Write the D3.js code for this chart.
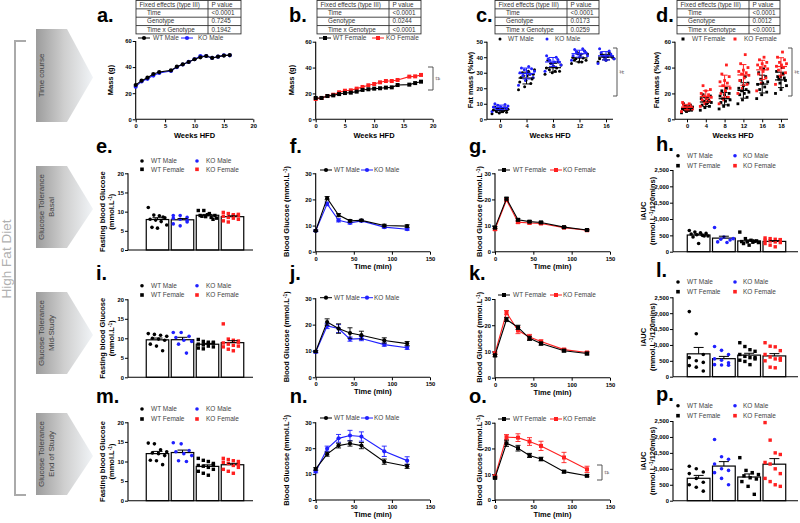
<!DOCTYPE html>
<html><head><meta charset="utf-8">
<script src="https://cdn.jsdelivr.net/npm/d3@7"></script>
<style>body{margin:0;background:#fff;} text{font-family:"Liberation Sans",Arial,sans-serif;}</style>
</head><body><svg id="c" width="800" height="523"></svg>
<script>
// ---------------- DATA ----------------
const weeksA = [0,1,2,3,4,6,7,8,9,10,11,12,13,14,15,16];
const massWTMale = [26.3,29.6,31.9,34.7,36.2,37.5,40.3,42.1,43.9,46,47.5,48.5,47,48,48.8,49.2];
const massKOMale = [25,29,31,33.5,35.5,37,40,42,44,46,48.5,48.5,47,48,49,49];
const weeksB = [0,1,2,3,4,5,6,7,8,9,10,11,12,13,14,16,17,18];
const massWTFemale = [16.5,16.5,18,18.5,19.5,20.3,20.6,21.4,22.7,23.2,23.7,24,24.5,24.7,26.5,26.8,28,29.1];
const massKOFemale = [15.7,16.5,18,19,20.9,22.1,22.4,23.7,25,26.3,27.3,28.6,29.6,29.6,30.4,33,33.2,34.3];

const fatWeeksC = ["0","4","8","12","16"];
const fatWTMale = [[3.5,4,4.5,5,5.5,6,6,6.5,7,7.5,8,5],[19,21,23,24,25,26,27,28,29,30,31,32,28,29],[29,30,31,32,33,33,34,35,36,37,38,31],[36,37,38,39,39.5,40,41,42,43,44,38,37],[37,38,39,40,40,41,41.5,42,43,39,40.5]];
const fatKOMale = [[5,6,6.5,7,7.5,8,8,8.5,9,9.5,10,7],[22,25,27,28,29,30,30.5,31,32,32.5,33,34],[31,34,35,36,37,38,38.5,39,40,41,37],[38,40,41,42,43,43.5,44,45,45.5,41,42],[36,38,39,40,40.5,41,42,43,44,45.5,41]];
const fatWeeksD = ["0","4","8","12","16","18"];
const fatWTFemale = [[5,6,7,7.5,8,8,9,9.5,10,11,12,7],[7,9,10,11,12,13,14,15,16,17,18,19,13],[8,10,11,13,14,15,16,17,18,19,20,22,24],[12,15,17,19,20,21,22,23,24,26,28,30,33],[16,19,21,23,25,27,28,29,31,33,36,39],[20,23,26,28,30,31,32,33,35,37,40]];
const fatKOFemale = [[6,7,8,8.5,9,10,10.5,11,12,13,9],[10,12,14,15,16,17,18,19,20,22,23,26,17],[12,15,17,20,22,24,26,28,29,30,33,35,42],[20,24,27,30,32,34,35,36,37,38,40,43,50],[22,28,32,35,37,39,40,41,42,43,44,46,48],[27,33,36,38,40,41,42,43,44,46,48,52]];

const tableRows = ["Time","Genotype","Time x Genotype"];
const pA = ["<0.0001","0.7245","0.1942"];
const pB = ["<0.0001","0.0244","<0.0001"];
const pC = ["<0.0001","0.0173","0.0259"];
const pD = ["<0.0001","0.0012","<0.0001"];

const groups = ["WT Male","KO Male","WT Female","KO Female"];
const fbgBasal = [[11.1,9.1,8.9,8.4,8.0,7.8,7.4,6.5,5.9,5.7,8.6],[8.3,8.0,8.5,9.0,9.0,7.3,6.8,6.3,7.7],[10.3,10.3,9.5,9.0,9.0,8.7,8.5,8.3,8.8,9.2,8.0],[9.8,9.5,9.2,9.0,8.8,8.5,8.3,8.0,7.6,7.3,9.0,9.3]];
const fbgMid = [[11.2,11.0,10.8,10.5,10.0,9.8,9.5,8.5,8.0,6.8],[11.5,11.5,10.5,10.2,9.5,9.2,8.5,6.2],[9.7,9.2,9.0,8.8,8.5,8.3,8.0,7.8,7.5,7.3,8.7,9.0],[13.7,9.8,9.5,9.0,8.8,8.5,8.2,8.0,7.8,7.2,6.8,9.3]];
const fbgEnd = [[14.7,14.5,13.0,12.5,12.2,12.0,11.5,10.3,10.2,9.2],[14.8,14.5,12.8,12.5,12.0,11.5,10.2,10.0],[10.8,10.3,10.0,9.5,9.0,8.8,8.5,8.0,7.5,7.0,6.5,9.2],[10.8,10.5,10.2,10.0,9.8,9.5,9.0,8.5,8.0,7.5,7.0,9.3]];
const iaucBasal = [[650,600,580,560,540,520,500,480,450,250,480],[740,450,400,380,360,300,280],[600,400,350,330,310,300,290,280,250,200,320],[420,400,380,360,350,330,300,280,250,200,150,370]];
const iaucMid = [[2050,1350,700,600,500,450,350,300,180],[950,830,700,560,520,440,380,370,360],[1070,950,850,800,700,640,600,560,520,480,380,600],[1070,960,940,820,700,620,560,520,500,300,280,580]];
const iaucEnd = [[1080,1000,900,850,700,580,500,420,300],[1920,1380,1300,1150,1000,950,880,700,500],[1350,950,880,820,780,720,680,600,450,200],[2450,1900,1500,1450,1200,1150,1000,850,700,600,500,450]];

const gttTimes = [0,15,30,45,60,90,120];
const gttBasalWTM = [8,20.5,14,11.8,12,10,9.8], gttBasalWTMse=[0.3,0.6,0.6,0.5,0.4,0.5,0.5];
const gttBasalKOM = [8,18.3,12,11,11.8,9.4,8.6], gttBasalKOMse=[0.3,0.7,0.6,0.4,0.4,0.4,0.4];
const gttBasalWTF = [9.2,20.3,12.2,11.5,11.2,9.4,8.3], gttBasalWTFse=[0.4,0.5,0.4,0.4,0.4,0.3,0.3];
const gttBasalKOF = [8.6,19.8,11.3,11,10.8,9.2,8.2], gttBasalKOFse=[0.4,0.5,0.4,0.4,0.4,0.3,0.3];
const gttMidWTM = [9.8,21,18.5,16.8,16,14,12.8], gttMidWTMse=[0.4,1.2,1.8,2,1.5,1,0.8];
const gttMidKOM = [9.6,19.5,18.5,14.5,14.7,12.4,11.2], gttMidKOMse=[0.4,1,1.5,0.8,0.8,0.6,0.6];
const gttMidWTF = [8.5,22.2,19.2,15,13,10.3,9.2], gttMidWTFse=[0.5,0.8,0.8,0.8,0.6,0.5,0.5];
const gttMidKOF = [9.3,24.8,18,15.5,13.8,10.7,9.6], gttMidKOFse=[0.5,0.8,1.2,1,0.6,0.5,0.4];
const gttEndWTM = [12,17.7,21,21.8,21,14.8,13], gttEndWTMse=[0.5,0.8,0.9,1,1.2,1,0.8];
const gttEndKOM = [11,19.8,23.8,24.9,24.5,18.8,15.2], gttEndKOMse=[0.5,1,1.5,2,1.8,2,1.5];
const gttEndWTF = [8.6,22,20.1,17.3,15.9,11,9.4], gttEndWTFse=[0.4,1.2,1.1,0.8,0.7,0.5,0.4];
const gttEndKOF = [9.2,24.4,24.2,22.7,21,16.5,11.9], gttEndKOFse=[0.4,1,1.5,1.5,1.8,2,1.2];

// ---------------- HELPERS ----------------
const svg = d3.select("#c");
const BLACK="#000", BLUE="#2020ff", RED="#ff2020";
const TICKF=5.8, TITLEF=7.5, LEGF=6.5;

function txt(x,y,s,o={}){
  const t=svg.append("text").attr("x",x).attr("y",y).text(s)
    .attr("font-size",o.size||7).attr("fill",o.fill||"#000")
    .attr("font-weight",o.bold?"bold":"normal").attr("text-anchor",o.anchor||"start");
  if(o.rot) t.attr("transform",`rotate(${o.rot},${x},${y})`);
  return t;
}
function richTxt(x,y,parts,o={}){
  const t=txt(x,y,"",o);
  parts.forEach(p=>{const ts=t.append("tspan").text(p[0]); if(p[1]) ts.attr("baseline-shift","super").attr("font-size",(o.size||7)*0.65);});
  return t;
}
function line(x1,y1,x2,y2,c="#000",w=1){svg.append("line").attr("x1",x1).attr("y1",y1).attr("x2",x2).attr("y2",y2).attr("stroke",c).attr("stroke-width",w);}
function marker(x,y,shape,color,s){
  if(shape==="sq") svg.append("rect").attr("x",x-s/2).attr("y",y-s/2).attr("width",s).attr("height",s).attr("fill",color);
  else svg.append("circle").attr("cx",x).attr("cy",y).attr("r",s/2).attr("fill",color);
}
function axes(box,x,y,xTicks,yTicks){
  line(box.l,box.b,box.r,box.b,"#000",1.1);
  line(box.l,box.b,box.l,box.t,"#000",1.1);
  const gy=svg.append("g").attr("transform",`translate(${box.l},0)`)
    .call(d3.axisLeft(y).tickValues(yTicks).tickSize(3).tickPadding(1));
  gy.select(".domain").remove();
  gy.attr("font-size",TICKF).attr("font-weight","bold").attr("font-family","Liberation Sans, Arial");
  if(xTicks){
    const gx=svg.append("g").attr("transform",`translate(0,${box.b})`)
      .call(d3.axisBottom(x).tickValues(xTicks).tickSize(3).tickPadding(2));
    gx.select(".domain").remove();
    gx.attr("font-size",TICKF).attr("font-weight","bold").attr("font-family","Liberation Sans, Arial");
  }
}
function table(x,w,split,vals){
  const rh=8.35, y0=0.5;
  svg.append("rect").attr("x",x).attr("y",y0).attr("width",w).attr("height",rh*4).attr("fill","#fff").attr("stroke","#333").attr("stroke-width",0.9);
  for(let i=1;i<4;i++) line(x,y0+rh*i,x+w,y0+rh*i,"#333",0.9);
  line(x+split,y0,x+split,y0+rh*4,"#333",0.9);
  txt(x+3.5,y0+6.2,"Fixed effects (type III)",{size:6.3,fill:"#333"});
  txt(x+split+3.5,y0+6.2,"P value",{size:6.3,fill:"#333"});
  tableRows.forEach((r,i)=>{
    txt(x+11,y0+rh*(i+1)+6.2,r,{size:6.3,fill:"#333"});
    txt(x+split+3.5,y0+rh*(i+1)+6.2,vals[i],{size:6.3,fill:"#333"});
  });
}
function plabel(x,y,s){txt(x,y,s,{size:20,bold:true});}
function bracket(x1,x2,y1,y2){
  svg.append("path").attr("d",`M${x1},${y1}H${x2}V${y2}H${x1}`).attr("fill","none").attr("stroke","#444").attr("stroke-width",0.9);
  txt(x2+1.5,(y1+y2)/2,"#",{size:6.5,fill:"#555",rot:90,anchor:"middle"});
}
function lineLegend(y,items){
  items.forEach(it=>{
    line(it.mx-6,y,it.mx+6,y,it.color,1);
    marker(it.mx,y,it.shape,it.color,it.shape==="sq"?4:4.2);
    txt(it.tx,y+2.3,it.label,{size:LEGF,fill:"#444"});
  });
}
function series(x,y,xs,vals,se,color,shape,ms){
  const ln=d3.line().x((d,i)=>x(xs[i])).y(d=>y(d));
  svg.append("path").attr("d",ln(vals)).attr("fill","none").attr("stroke",color).attr("stroke-width",1.1);
  if(se) vals.forEach((v,i)=>{
    const cx=x(xs[i]);
    line(cx,y(v-se[i]),cx,y(v+se[i]),color,0.9);
    line(cx-2.5,y(v+se[i]),cx+2.5,y(v+se[i]),color,0.9);
    line(cx-2.5,y(v-se[i]),cx+2.5,y(v-se[i]),color,0.9);
  });
  vals.forEach((v,i)=>marker(x(xs[i]),y(v),shape,color,ms));
}

// ---------------- LEFT DECORATION ----------------
const defs=svg.append("defs");
const gr=defs.append("linearGradient").attr("id","ag").attr("x1","0").attr("x2","1").attr("y1","0").attr("y2","0");
gr.append("stop").attr("offset","0").attr("stop-color","#9c9c9c");
gr.append("stop").attr("offset","0.5").attr("stop-color","#cfcfcf");
gr.append("stop").attr("offset","1").attr("stop-color","#f1f4f7");
svg.append("path").attr("d","M26,41H15V495H26").attr("fill","none").attr("stroke","#aaa").attr("stroke-width",2);
txt(11,259,"High Fat Diet",{size:13.5,fill:"#b0b0b0",rot:-90,anchor:"middle"});
function arrow(t,b,lines){
  const m=(t+b)/2+2;
  svg.append("path").attr("d",`M36,${t}H67L93,${m}L67,${b}H36Z`).attr("fill","url(#ag)");
  lines.forEach((s,i)=>{
    const x = lines.length===1?44:44+i*9.5;
    txt(x,(t+b)/2,s,{size:8,fill:"#444",rot:-90,anchor:"middle"});
  });
}
arrow(29,122,["Time course"]);
arrow(166,248,["Glucose Tolerance","Basal"]);
arrow(292,374,["Glucose Tolerance","Mid-Study"]);
arrow(413,495,["Glucose Tolerance","End of Study"]);

// ---------------- PANEL a ----------------
{
  const box={l:135.7,r:253.3,b:119.3,t:41};
  const x=d3.scaleLinear().domain([0,20]).range([box.l,box.r]);
  const y=d3.scaleLinear().domain([0,60]).range([box.b,box.t]);
  axes(box,x,y,[0,5,10,15,20],[0,20,40,60]);
  series(x,y,weeksA,massKOMale,null,BLUE,"c",4.2);
  series(x,y,weeksA,massWTMale,null,BLACK,"c",4.2);
  table(136,105,72,pA);
  plabel(97,22,"a.");
  lineLegend(38,[{mx:144,tx:153,color:BLACK,shape:"c",label:"WT Male"},{mx:187,tx:198,color:BLUE,shape:"c",label:"KO Male"}]);
  txt(194.5,138,"Weeks HFD",{size:TITLEF,bold:true,anchor:"middle"});
  txt(113,80,"Mass (g)",{size:TITLEF,bold:true,anchor:"middle",rot:-90});
}
// ---------------- PANEL b ----------------
{
  const box={l:315.7,r:432.7,b:119.3,t:41.7};
  const x=d3.scaleLinear().domain([0,20]).range([box.l,box.r]);
  const y=d3.scaleLinear().domain([0,60]).range([box.b,box.t]);
  axes(box,x,y,[0,5,10,15,20],[0,20,40,60]);
  series(x,y,weeksB,massKOFemale,null,RED,"sq",4);
  series(x,y,weeksB,massWTFemale,null,BLACK,"sq",4);
  table(317,104,72,pB);
  plabel(289,22,"b.");
  lineLegend(38,[{mx:325,tx:333,color:BLACK,shape:"sq",label:"WT Female"},{mx:378,tx:386,color:RED,shape:"sq",label:"KO Female"}]);
  txt(374,138,"Weeks HFD",{size:TITLEF,bold:true,anchor:"middle"});
  txt(294,80,"Mass (g)",{size:TITLEF,bold:true,anchor:"middle",rot:-90});
  bracket(428,433,67,90);
}
// ---------------- scatter panels c,d ----------------
function scatterPanel(box,cats,catRange,yMax,yTicks,wt,ko,koColor,shape,spread,meanW){
  const x=d3.scalePoint().domain(cats).range(catRange);
  const y=d3.scaleLinear().domain([0,yMax]).range([box.b,box.t]);
  axes(box,x,y,cats,yTicks);
  const drawPts=(data,color)=>data.forEach((arr,ci)=>{
    const n=arr.length;
    arr.forEach((v,i)=>{
      const off=(((i*5)%n)/(n-1)-0.5)*spread;
      marker(x(cats[ci])+off,y(v),shape,color,shape==="sq"?2.8:3);
    });
  });
  drawPts(wt,BLACK); drawPts(ko,koColor);
  const drawErr=(data,color)=>data.forEach((arr,ci)=>{
    const m=d3.mean(arr), sd=d3.deviation(arr), cx=x(cats[ci]);
    line(cx-meanW/2,y(m),cx+meanW/2,y(m),color,1.2);
    line(cx,y(m-sd),cx,y(m+sd),color,1);
    line(cx-meanW/4,y(m+sd),cx+meanW/4,y(m+sd),color,1);
    line(cx-meanW/4,y(m-sd),cx+meanW/4,y(m-sd),color,1);
  });
  drawErr(wt,BLACK); drawErr(ko,koColor);
}
{
  const box={l:487,r:613,b:119.3,t:41.7};
  scatterPanel(box,fatWeeksC,[500,606],50,[0,10,20,30,40,50],fatWTMale,fatKOMale,BLUE,"c",16,16);
  table(495,104,72,pC);
  plabel(476,22,"c.");
  [[500,508,BLACK,"WT Male"],[547,555,BLUE,"KO Male"]].forEach(d=>{marker(d[0],39,"c",d[2],3);txt(d[1],41.3,d[3],{size:LEGF,fill:"#444"});});
  txt(550,138,"Weeks HFD",{size:TITLEF,bold:true,anchor:"middle"});
  txt(473,80,"Fat mass  (%bw)",{size:TITLEF,bold:true,anchor:"middle",rot:-90});
  bracket(613,617,48,96);
}
{
  const box={l:675,r:788,b:119.3,t:41.7};
  scatterPanel(box,fatWeeksD,[687,781],60,[0,20,40,60],fatWTFemale,fatKOFemale,RED,"sq",11,12);
  table(677,103,72,pD);
  plabel(656,22,"d.");
  [[683,692,BLACK,"WT Female"],[735,744,RED,"KO Female"]].forEach(d=>{marker(d[0],39,"sq",d[2],3);txt(d[1],41.3,d[3],{size:LEGF,fill:"#444"});});
  txt(733,138,"Weeks HFD",{size:TITLEF,bold:true,anchor:"middle"});
  txt(659,80,"Fat mass  (%bw)",{size:TITLEF,bold:true,anchor:"middle",rot:-90});
  bracket(788,792,48,96);
}
// ---------------- bar panels ----------------
const gColors=[BLACK,BLUE,BLACK,RED], gShapes=["c","c","sq","sq"];
function barPanel(box,bandRange,yMax,yTicks,data,legY,legX){
  const x=d3.scaleBand().domain(groups).range(bandRange).paddingInner(0.1).paddingOuter(0.05);
  const y=d3.scaleLinear().domain([0,yMax]).range([box.b,box.t]);
  const bw=x.bandwidth();
  groups.forEach((g,gi)=>{
    const arr=data[gi], m=d3.mean(arr);
    svg.append("rect").attr("x",x(g)).attr("y",y(m)).attr("width",bw).attr("height",box.b-y(m)).attr("fill","#fff").attr("stroke","#000").attr("stroke-width",1.2);
  });
  axes(box,x,y,null,yTicks);
  groups.forEach((g,gi)=>{
    const arr=data[gi], n=arr.length;
    arr.forEach((v,i)=>{
      const off=(((i*3)%n)/(n-1)-0.5)*bw*0.82;
      marker(x(g)+bw/2+off,y(v),gShapes[gi],gColors[gi],gShapes[gi]==="sq"?3.4:3.6);
    });
  });
  groups.forEach((g,gi)=>{
    const arr=data[gi], m=d3.mean(arr), se=d3.deviation(arr)/Math.sqrt(arr.length), cx=x(g)+bw/2;
    line(cx,y(m),cx,y(m+se),"#000",1);
    line(cx-5,y(m+se),cx+5,y(m+se),"#000",1);
  });
  groups.forEach((g,gi)=>{
    const r=gi>=2?1:0, c=gi%2;
    const my=legY[r], mx=legX[c*2], tx=legX[c*2+1];
    marker(mx,my,gShapes[gi],gColors[gi],3.6);
    txt(tx,my+2.3,g,{size:LEGF,fill:"#444"});
  });
}
function fbg(box,data,legY,lab,labY){
  barPanel(box,[145,245],20,[0,5,10,15,20],data,legY,[142,151,197,206]);
  const cy=(box.t+box.b)/2;
  txt(105,cy,"Fasting blood Glucose",{size:TITLEF,bold:true,anchor:"middle",rot:-90});
  richTxt(114,cy,[["(mmol.L"],["-1",true],[")"]],{size:TITLEF,bold:true,anchor:"middle",rot:-90});
  plabel(96,labY,lab);
}
function iauc(box,data,legY,lab,labY){
  barPanel(box,[686,787],2500,[0,500,1000,1500,2000,2500],data,legY,[678,687,735,743]);
  const cy=(box.t+box.b)/2;
  txt(646,cy,"iAUC",{size:TITLEF,bold:true,anchor:"middle",rot:-90});
  richTxt(655,cy,[["(mmol.L"],["-1",true],["/120mins)"]],{size:TITLEF,bold:true,anchor:"middle",rot:-90});
  plabel(656,labY,lab);
}
fbg({l:128,r:253,b:250,t:173.3},fbgBasal,[161,169.3],"e.",153);
fbg({l:128,r:253,b:377.3,t:299.3},fbgMid,[285.7,295],"i.",280);
fbg({l:128,r:253,b:500.7,t:422.3},fbgEnd,[409,419],"m.",403);
iauc({l:673,r:798,b:251.7,t:170},iaucBasal,[155.7,165.7],"h.",151);
iauc({l:673,r:798,b:376.7,t:297.3},iaucMid,[282,291.7],"l.",277);
iauc({l:673,r:798,b:500.7,t:421},iaucEnd,[405.7,415.7],"p.",401);

// ---------------- GTT line panels ----------------
function gtt(box,wt,wtse,ko,kose,koColor,shape,legY,legX,names,lab,labY,titleX){
  const x=d3.scaleLinear().domain([0,150]).range([box.l,box.r]);
  const y=d3.scaleLinear().domain([0,30]).range([box.b,box.t]);
  axes(box,x,y,[0,50,100,150],[0,10,20,30]);
  series(x,y,gttTimes,ko,kose,koColor,shape,shape==="sq"?4:4.2);
  series(x,y,gttTimes,wt,wtse,BLACK,shape,shape==="sq"?4:4.2);
  lineLegend(legY,[{mx:legX[0],tx:legX[1],color:BLACK,shape,label:names[0]},{mx:legX[2],tx:legX[3],color:koColor,shape,label:names[1]}]);
  txt((box.l+box.r)/2,box.b+17,"Time (min)",{size:TITLEF,bold:true,anchor:"middle"});
  richTxt(titleX,(box.t+box.b)/2-1,[["Blood Glucose (mmol.L"],["-1",true],[")"]],{size:TITLEF,bold:true,anchor:"middle",rot:-90});
  plabel(box.l-26,labY,lab);
}
const mNames=["WT Male","KO Male"], fNames=["WT Female","KO Female"];
gtt({l:315.7,r:430,b:251.7,t:173.3},gttBasalWTM,gttBasalWTMse,gttBasalKOM,gttBasalKOMse,BLUE,"c",170,[326,334,367,374],mNames,"f.",153,289);
gtt({l:495,r:610,b:251.7,t:173.3},gttBasalWTF,gttBasalWTFse,gttBasalKOF,gttBasalKOFse,RED,"sq",170,[504,513,556,563],fNames,"g.",153,482);
gtt({l:315.7,r:430,b:377.3,t:298.3},gttMidWTM,gttMidWTMse,gttMidKOM,gttMidKOMse,BLUE,"c",297.7,[326,334,367,374],mNames,"j.",280,289);
gtt({l:495,r:610,b:377.7,t:299},gttMidWTF,gttMidWTFse,gttMidKOF,gttMidKOFse,RED,"sq",295,[504,513,556,563],fNames,"k.",280,482);
gtt({l:315.7,r:430,b:500,t:422.3},gttEndWTM,gttEndWTMse,gttEndKOM,gttEndKOMse,BLUE,"c",418,[326,334,367,374],mNames,"n.",403,289);
gtt({l:495,r:610,b:500,t:422.7},gttEndWTF,gttEndWTFse,gttEndKOF,gttEndKOFse,RED,"sq",419,[504,513,556,563],fNames,"o.",403,482);
bracket(597,602,465,480);
</script></body></html>
